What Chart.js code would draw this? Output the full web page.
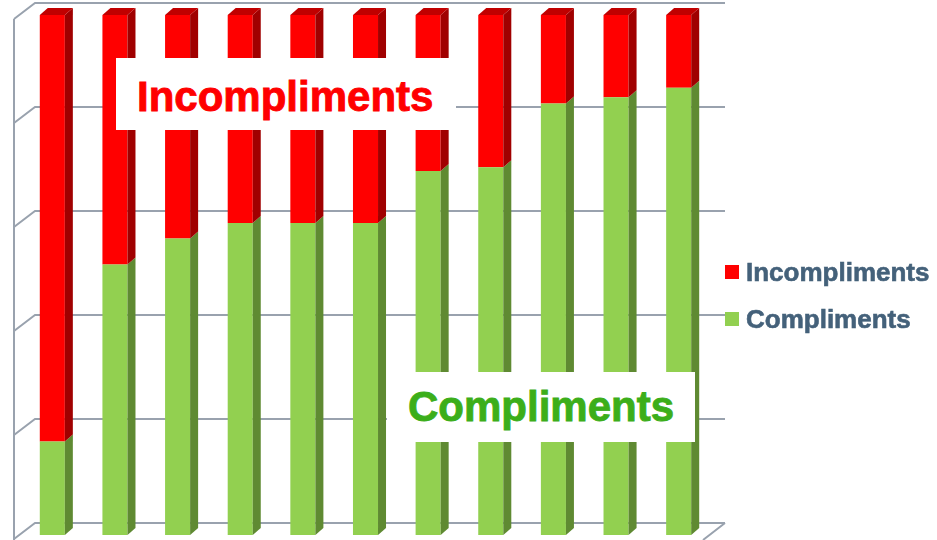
<!DOCTYPE html>
<html lang="en">
<head>
    <meta charset="UTF-8">
    <title>Compliments vs Incompliments</title>
    <script src="https://cdn.jsdelivr.net/npm/chart.js"></script>
    <style>
        body { margin: 0; background: #fff; font-family: "Liberation Sans", Arial, sans-serif; }
        #wrap { position: relative; width: 937px; height: 540px; overflow: hidden; }
        .tag { position: absolute; background: #fff; }
        .tag span { position: absolute; font-weight: bold; font-size: 42px; line-height: 42px; white-space: nowrap; -webkit-text-stroke: 0.9px currentColor; }
        .leg { position: absolute; left: 725px; font-weight: bold; font-size: 26px; line-height: 26px; color: #44617a; white-space: nowrap; }
        .leg i { position: absolute; left: 0; top: 6px; width: 14px; height: 14px; }
        .leg span { position: absolute; left: 21px; top: 0; -webkit-text-stroke: 0.6px currentColor; }
    </style>
</head>
<body>
<div id="wrap">
    <canvas id="chart" width="937" height="540"></canvas>
    <div class="tag" style="left:116px;top:58px;width:340px;height:72px"><span id="tagRed" style="left:21px;top:18px;color:#ff0000"></span></div>
    <div class="tag" style="left:387px;top:372px;width:308px;height:70px"><span id="tagGreen" style="left:21px;top:14px;color:#3cae1a"></span></div>
    <div class="leg" style="top:259px"><i style="background:#ff0000"></i><span id="legRed"></span></div>
    <div class="leg" style="top:306px"><i style="background:#92d050"></i><span id="legGreen"></span></div>
</div>
<script>
// data (percent of each bar)
const categories = ['1', '2', '3', '4', '5', '6', '7', '8', '9', '10', '11'];
const compliments = [18, 52, 57, 60, 60, 60, 70, 70.7, 83, 84.2, 86];
const incompliments = [82, 48, 43, 40, 40, 40, 30, 29.3, 17, 15.8, 14];
const seriesNames = ['Compliments', 'Incompliments'];

document.getElementById('tagRed').textContent = seriesNames[1];
document.getElementById('tagGreen').textContent = seriesNames[0];
document.getElementById('legRed').textContent = seriesNames[1];
document.getElementById('legGreen').textContent = seriesNames[0];

const DX = 8, DY = 7; // bar depth

// back wall, left wall and floor
const walls = {
    id: 'walls',
    beforeDatasetsDraw(chart) {
        const ctx = chart.ctx;
        const y = chart.scales.y;
        ctx.save();
        ctx.strokeStyle = '#99a2ae';
        ctx.lineWidth = 2;
        ctx.beginPath();
        for (let v = 0; v <= 100; v += 20) {
            const yb = y.getPixelForValue(v) - 12;
            ctx.moveTo(725, yb);
            ctx.lineTo(35, yb);
            ctx.lineTo(14, yb + 16);
        }
        ctx.moveTo(14, y.getPixelForValue(100) + 4);
        ctx.lineTo(14, 545);
        const y0 = y.getPixelForValue(0) - 12;
        ctx.moveTo(725, y0);
        ctx.lineTo(703, y0 + 17);
        ctx.stroke();
        ctx.restore();
    }
};

// side and top faces of each bar
const faces = {
    id: 'faces',
    afterDatasetsDraw(chart) {
        const ctx = chart.ctx;
        const sides = ['#5f8a32', '#a00000'];
        ctx.save();
        chart.data.datasets.forEach((ds, di) => {
            chart.getDatasetMeta(di).data.forEach(bar => {
                const r = bar.x + bar.width / 2, l = bar.x - bar.width / 2;
                ctx.fillStyle = sides[di];
                ctx.beginPath();
                ctx.moveTo(r, bar.y);
                ctx.lineTo(r + DX, bar.y - DY);
                ctx.lineTo(r + DX, bar.base - DY);
                ctx.lineTo(r, bar.base);
                ctx.closePath();
                ctx.fill();
                if (di === chart.data.datasets.length - 1) {
                    ctx.fillStyle = '#c00000';
                    ctx.beginPath();
                    ctx.moveTo(l, bar.y);
                    ctx.lineTo(l + DX, bar.y - DY);
                    ctx.lineTo(r + DX, bar.y - DY);
                    ctx.lineTo(r, bar.y);
                    ctx.closePath();
                    ctx.fill();
                }
            });
        });
        ctx.restore();
    }
};

new Chart(document.getElementById('chart'), {
    type: 'bar',
    data: {
        labels: categories,
        datasets: [
            { label: seriesNames[0], data: compliments, backgroundColor: '#92d050' },
            { label: seriesNames[1], data: incompliments, backgroundColor: '#ff0000' }
        ]
    },
    options: {
        responsive: false,
        animation: false,
        layout: { padding: { left: 21, right: 227, top: 15, bottom: 5 } },
        plugins: { legend: { display: false }, tooltip: { enabled: false } },
        datasets: { bar: { categoryPercentage: 1, barPercentage: 0.4 } },
        scales: {
            x: { stacked: true, display: false },
            y: { stacked: true, display: false, min: 0, max: 100 }
        }
    },
    plugins: [walls, faces]
});
</script>
</body>
</html>
